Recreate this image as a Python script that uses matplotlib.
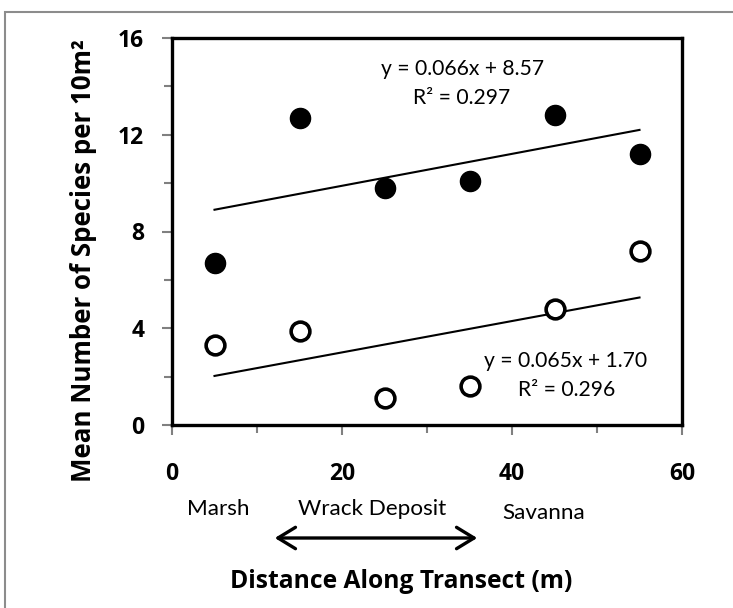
import numpy as np
import matplotlib
matplotlib.use("Agg")
import matplotlib.pyplot as plt
from matplotlib.ticker import MultipleLocator
from matplotlib.patches import Rectangle, FancyArrowPatch

plt.rcParams['font.family'] = ['Lato', 'DejaVu Sans']
BOLD = ['Open Sans', 'DejaVu Sans']

# ---- data ----
distance = [5, 15, 25, 35, 45, 55]
series_filled = [6.7, 12.7, 9.8, 10.1, 12.8, 11.2]
series_open = [3.3, 3.9, 1.1, 1.6, 4.8, 7.2]
eq_filled = ["y = 0.066x + 8.57", "R\u00b2 = 0.297"]
eq_open = ["y = 0.065x + 1.70", "R\u00b2 = 0.296"]
zones = ["Marsh", "Wrack Deposit", "Savanna"]
x_ticks = [0, 20, 40, 60]
y_ticks = [0, 4, 8, 12, 16]
xlabel = "Distance Along Transect (m)"
ylabel = "Mean Number of Species per 10m\u00b2"

W, H = 733, 608
fig = plt.figure(figsize=(W / 100, H / 100), dpi=100)

def fx(px):
    return px / W

def fy(py):
    return 1 - py / H

# outer document frame (right/bottom edges lie outside the picture)
fig.patches.append(Rectangle((fx(5), fy(800)), fx(900), 788 / H,
                             transform=fig.transFigure, fill=False,
                             edgecolor='#8c8c8c', linewidth=1.5))

ax = fig.add_axes([fx(172), fy(425), fx(682) - fx(172), fy(38) - fy(425)])

# trendlines
xs = np.array(distance, dtype=float)
for ys in (series_filled, series_open):
    m, b = np.polyfit(xs, np.array(ys), 1)
    ax.plot([xs.min(), xs.max()], [m * xs.min() + b, m * xs.max() + b],
            color='black', lw=1.5, zorder=2)

ax.plot(distance, series_filled, 'o', color='black', markersize=14.5,
        linestyle='none', zorder=3)
ax.plot(distance, series_open, 'o', markerfacecolor='white',
        markeredgecolor='black', markeredgewidth=2.6, markersize=13.5,
        linestyle='none', zorder=3)

ax.set_xlim(0, 60)
ax.set_ylim(0, 16)
ax.set_xticks(x_ticks)
ax.set_yticks(y_ticks)
ax.xaxis.set_minor_locator(MultipleLocator(10))
ax.yaxis.set_minor_locator(MultipleLocator(2))
ax.tick_params(which='both', direction='out', color='#808080', width=1.5)
ax.tick_params(which='major', length=7)
ax.tick_params(which='minor', length=6)
ax.tick_params(axis='x', which='major', pad=20)
ax.tick_params(axis='y', which='major', pad=13)
for lab in ax.get_xticklabels() + ax.get_yticklabels():
    lab.set_fontweight('bold')
    lab.set_fontsize(16.5)
    lab.set_family(BOLD)

for s in ax.spines.values():
    s.set_color('black')
    s.set_linewidth(2.4)

# equations
eq_kw = dict(transform=ax.transAxes, ha='center', va='center', fontsize=15.2)
ax.text(0.569, 0.920, eq_filled[0], **eq_kw)
ax.text(0.567, 0.845, eq_filled[1], **eq_kw)
ax.text(0.771, 0.165, eq_open[0], **eq_kw)
ax.text(0.773, 0.090, eq_open[1], **eq_kw)

# zone labels
fig.text(fx(218), fy(509), zones[0], ha='center', va='center', fontsize=16.2)
fig.text(fx(372), fy(509), zones[1], ha='center', va='center', fontsize=16.2)
fig.text(fx(544), fy(513), zones[2], ha='center', va='center', fontsize=16.2)

# double arrow
fig.patches.append(FancyArrowPatch(
    (fx(272), fy(538)), (fx(480), fy(538)), transform=fig.transFigure,
    arrowstyle='<->,head_length=0.9,head_width=0.55', color='black',
    linewidth=2.4, mutation_scale=14))

fig.text(fx(401), fy(582), xlabel, ha='center', va='center', fontsize=17.7,
         fontweight='bold', family=BOLD)
fig.text(fx(84), fy(261), ylabel, ha='center', va='center', rotation=90,
         fontsize=18.6, fontweight='bold', family=BOLD)

fig.savefig('out.png', dpi=100)
